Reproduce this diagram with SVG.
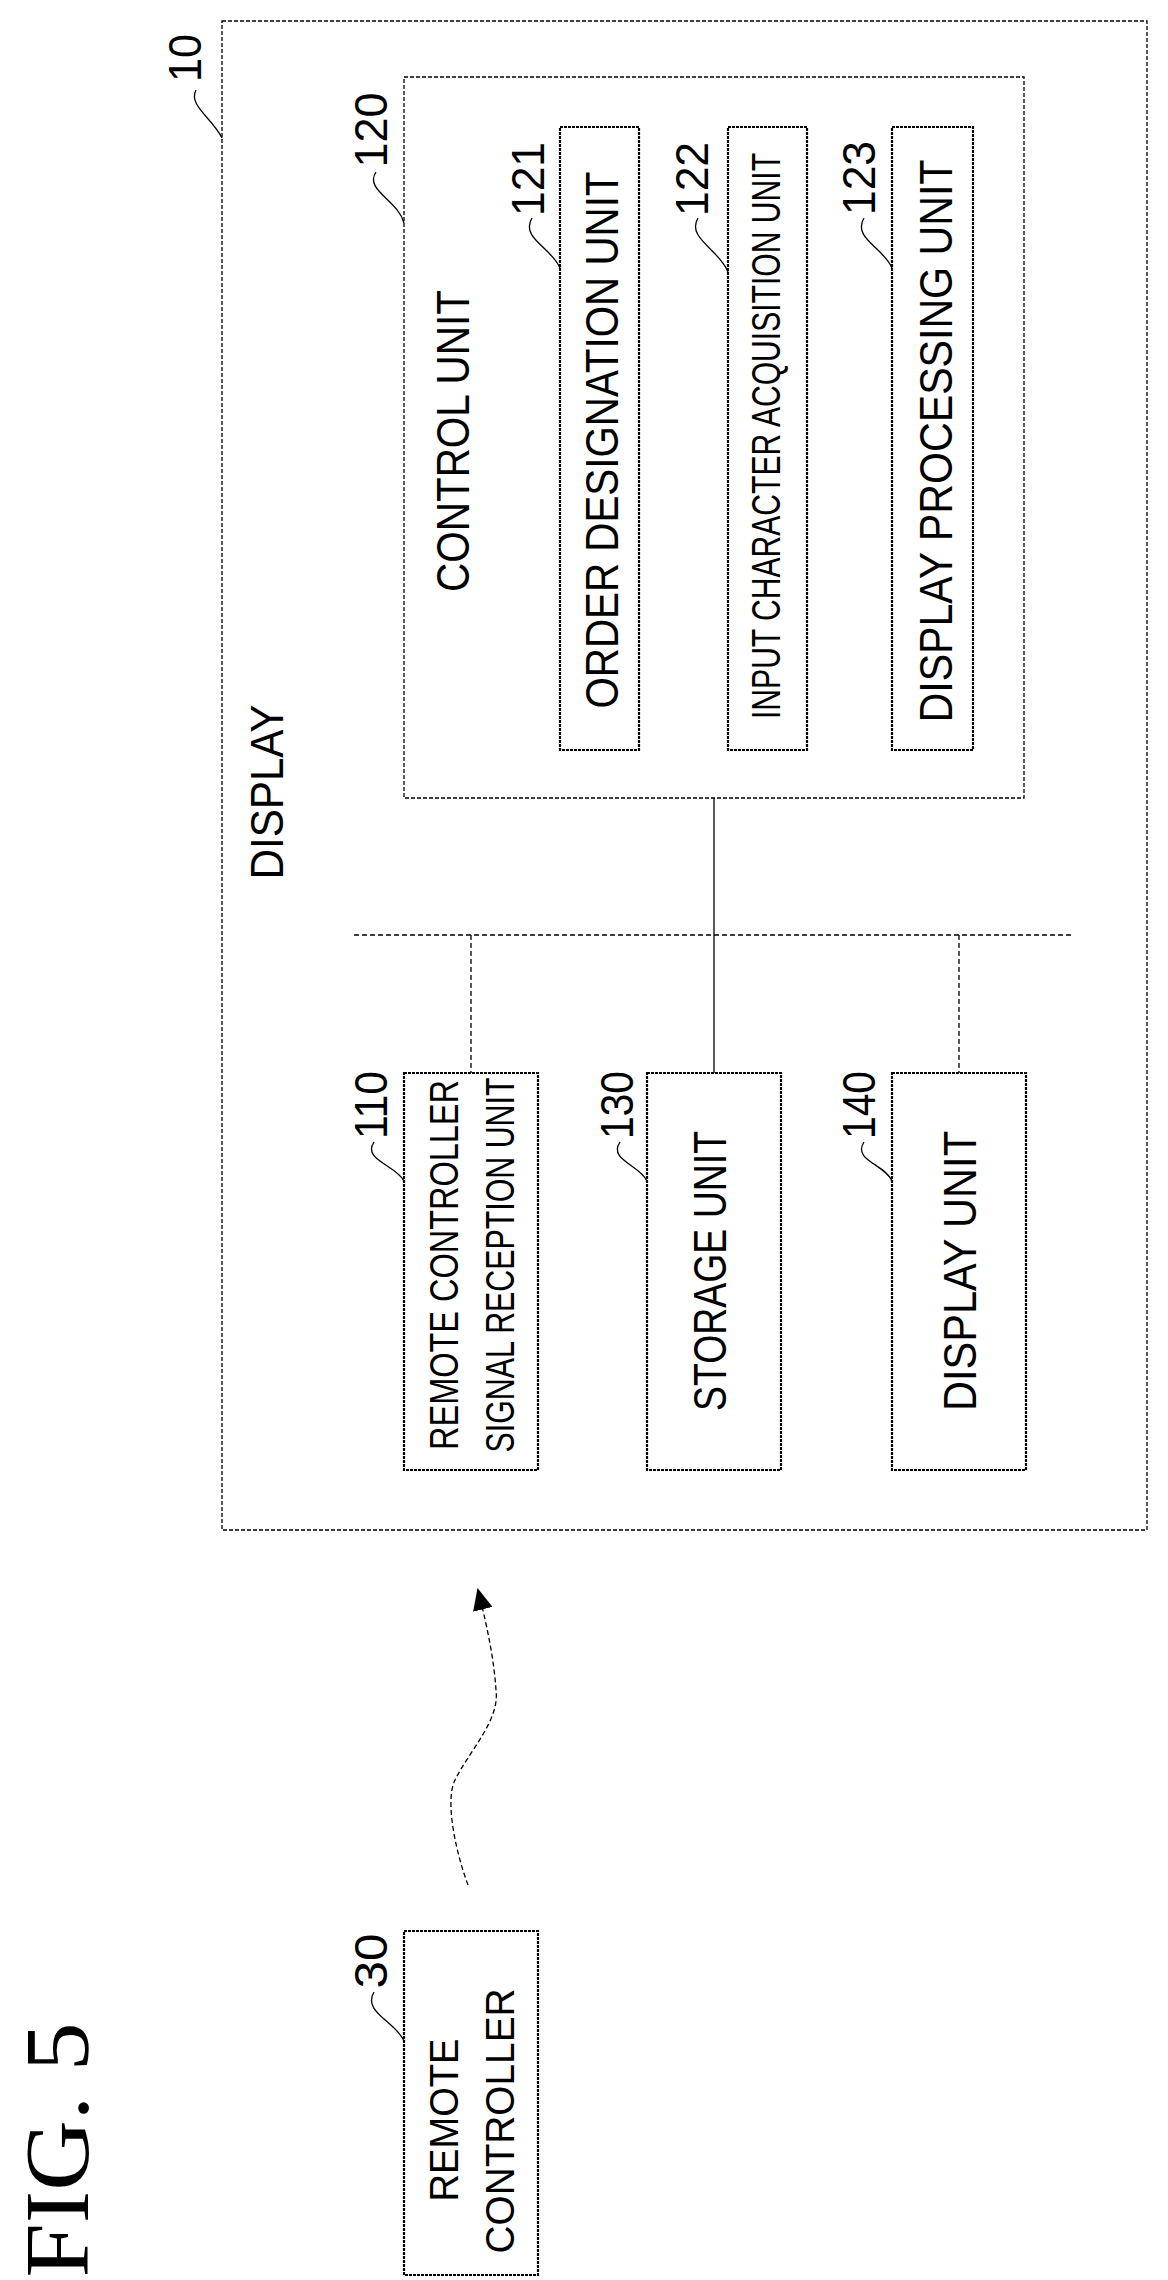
<svg xmlns="http://www.w3.org/2000/svg" width="1168" height="2280" viewBox="0 0 1168 2280">
<style>
.frame{fill:none;stroke:#000;stroke-width:1.3;stroke-dasharray:4 2}
.box{fill:none;stroke:#000;stroke-width:2.2;stroke-dasharray:3 1}
.ln{fill:none;stroke:#000;stroke-width:1.3}
.dl{fill:none;stroke:#000;stroke-width:1.3;stroke-dasharray:5 3}
.t{font-family:"Liberation Sans",Arial,sans-serif;font-size:46px;text-anchor:middle;fill:#000}
.s{font-family:"Liberation Sans",Arial,sans-serif;font-size:40px;text-anchor:middle;fill:#000}
.n{font-family:"Liberation Sans",Arial,sans-serif;font-size:46px;text-anchor:middle;fill:#000}
</style>
<defs><marker id="ah" markerWidth="22" markerHeight="20" refX="20" refY="10" orient="auto" markerUnits="userSpaceOnUse"><path d="M0,0 L22,10 L0,20 Z" fill="#000"/></marker></defs>
<text transform="translate(88,2150) rotate(-90)" font-family="'Liberation Serif',serif" font-size="92" text-anchor="middle" textLength="255" lengthAdjust="spacingAndGlyphs">FIG. 5</text>
<g id="n10">
<rect class="frame" x="222" y="21" width="925" height="1509"/>
<text class="n" transform="translate(201,58) rotate(-90)" textLength="48" lengthAdjust="spacingAndGlyphs">10</text>
<path class="ln" d="M196 90 C188 105 212 118 222 138"/>
<text class="t" transform="translate(283,792) rotate(-90)" textLength="175" lengthAdjust="spacingAndGlyphs">DISPLAY</text>
</g>
<g id="n120">
<rect class="frame" x="404" y="77" width="620" height="721"/>
<text class="n" transform="translate(387,130) rotate(-90)" textLength="75" lengthAdjust="spacingAndGlyphs">120</text>
<path class="ln" d="M376 172 C364 190 398 200 404 223"/>
<text class="t" transform="translate(469,441) rotate(-90)" textLength="302" lengthAdjust="spacingAndGlyphs">CONTROL UNIT</text>
</g>
<g id="n121">
<rect class="box" x="560" y="127" width="79" height="623"/>
<text class="n" transform="translate(544,179) rotate(-90)" textLength="74" lengthAdjust="spacingAndGlyphs">121</text>
<path class="ln" d="M532 218 C520 238 552 248 560 268"/>
<text class="t" transform="translate(618,440) rotate(-90)" textLength="537" lengthAdjust="spacingAndGlyphs">ORDER DESIGNATION UNIT</text>
</g>
<g id="n122">
<rect class="box" x="728" y="127" width="79" height="623"/>
<text class="n" transform="translate(708,179) rotate(-90)" textLength="74" lengthAdjust="spacingAndGlyphs">122</text>
<path class="ln" d="M698 218 C686 238 720 250 728 272"/>
<text class="s" transform="translate(780,436) rotate(-90)" font-size="38" textLength="566" lengthAdjust="spacingAndGlyphs">INPUT CHARACTER ACQUISITION UNIT</text>
</g>
<g id="n123">
<rect class="box" x="892" y="127" width="81" height="623"/>
<text class="n" transform="translate(875,178) rotate(-90)" textLength="74" lengthAdjust="spacingAndGlyphs">123</text>
<path class="ln" d="M864 218 C852 238 884 248 892 268"/>
<text class="t" transform="translate(952,441) rotate(-90)" textLength="563" lengthAdjust="spacingAndGlyphs">DISPLAY PROCESSING UNIT</text>
</g>
<g id="n110">
<rect class="box" x="404" y="1073" width="134" height="397"/>
<text class="n" transform="translate(387,1105) rotate(-90)" textLength="68" lengthAdjust="spacingAndGlyphs">110</text>
<path class="ln" d="M374 1142 C362 1160 396 1165 404 1181"/>
<text class="s" transform="translate(458,1265) rotate(-90)" textLength="370" lengthAdjust="spacingAndGlyphs">REMOTE CONTROLLER</text>
<text class="s" transform="translate(514,1265) rotate(-90)" textLength="375" lengthAdjust="spacingAndGlyphs">SIGNAL RECEPTION UNIT</text>
</g>
<g id="n130">
<rect class="box" x="647" y="1073" width="134" height="397"/>
<text class="n" transform="translate(633,1105) rotate(-90)" textLength="68" lengthAdjust="spacingAndGlyphs">130</text>
<path class="ln" d="M620 1142 C608 1160 640 1165 647 1181"/>
<text class="t" transform="translate(726,1271) rotate(-90)" textLength="280" lengthAdjust="spacingAndGlyphs">STORAGE UNIT</text>
</g>
<g id="n140">
<rect class="box" x="892" y="1073" width="134" height="397"/>
<text class="n" transform="translate(875,1105) rotate(-90)" textLength="68" lengthAdjust="spacingAndGlyphs">140</text>
<path class="ln" d="M864 1142 C852 1160 886 1165 892 1181"/>
<text class="t" transform="translate(976,1271) rotate(-90)" textLength="280" lengthAdjust="spacingAndGlyphs">DISPLAY UNIT</text>
</g>
<g id="n30">
<rect class="box" x="404" y="1931" width="134" height="344"/>
<text class="n" transform="translate(387,1961) rotate(-90)" textLength="55" lengthAdjust="spacingAndGlyphs">30</text>
<path class="ln" d="M374 1992 C362 2012 396 2022 404 2041"/>
<text class="s" transform="translate(458,2120) rotate(-90)" textLength="163" lengthAdjust="spacingAndGlyphs">REMOTE</text>
<text class="s" transform="translate(514,2121) rotate(-90)" textLength="265" lengthAdjust="spacingAndGlyphs">CONTROLLER</text>
</g>
<g id="connectors">
<line class="dl" x1="354" y1="935" x2="1074" y2="935"/>
<line class="ln" x1="714" y1="798" x2="714" y2="1073"/>
<line class="dl" x1="471" y1="935" x2="471" y2="1073"/>
<line class="dl" x1="959" y1="935" x2="959" y2="1073"/>
<path class="dl" d="M468 1885 C455 1850 445 1800 455 1780 C470 1750 500 1720 496 1690 C494 1660 488 1630 478 1590" marker-end="url(#ah)"/>
</g>
</svg>
